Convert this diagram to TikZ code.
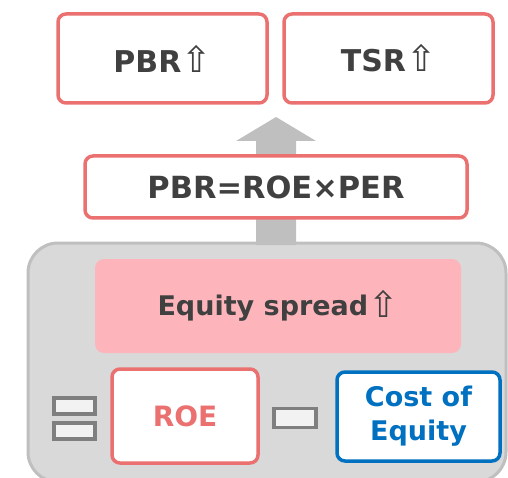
\documentclass[tikz,border=0pt]{standalone}
\usepackage{fontspec}
\setmainfont{DejaVu Sans}
\definecolor{redb}{RGB}{235,112,112}
\definecolor{bluec}{RGB}{0,112,192}
\definecolor{txt}{RGB}{64,64,64}
\definecolor{pinkf}{RGB}{253,181,187}
\definecolor{contf}{RGB}{217,217,217}
\definecolor{contb}{RGB}{191,191,191}
\definecolor{opb}{RGB}{127,127,127}
\definecolor{opf}{RGB}{242,242,242}
\newcommand{\upar}{{\mdseries\fontsize{36}{36}\selectfont\raisebox{-2pt}{⇧}}}
\tikzset{
  redbox/.style={draw=redb, line width=3.5pt, fill=white, rounded corners=8pt, inner sep=0pt, text=txt, font=\bfseries\fontsize{30}{32}\selectfont},
  bluebox/.style={draw=bluec, line width=3.5pt, fill=white, rounded corners=8pt, inner sep=0pt, text=bluec, align=center, font=\bfseries\fontsize{27}{34}\selectfont},
  pinkbox/.style={fill=pinkf, rounded corners=9pt, inner sep=0pt, text=txt, font=\bfseries\fontsize{27}{30}\selectfont},
  opbox/.style={draw=opb, line width=3.5pt, fill=opf, inner sep=0pt}
}
\begin{document}
\begin{tikzpicture}[x=1pt,y=-1pt]
\useasboundingbox (0,0) rectangle (508,478);
\begin{scope}
\clip (0,0) rectangle (508,478);
\draw[draw=contb, fill=contf, line width=3pt, rounded corners=30pt] (28,243) rectangle (506,482);
\end{scope}
% big grey arrow
\fill[contb] (256,245) -- (256,141) -- (236,141) -- (276,117) -- (316,141) -- (296,141) -- (296,245) -- cycle;
\node[redbox, minimum width=209pt, minimum height=89pt] (pbr) at (162.5,58.5) {\raisebox{-2pt}{PBR}\upar};
\node[redbox, minimum width=209pt, minimum height=89pt] (tsr) at (388.5,58.5) {\raisebox{-2pt}{TSR}\upar};
\node[redbox, font=\bfseries\fontsize{30.5}{32}\selectfont, minimum width=382pt, minimum height=62pt] (form) at (276,187) {PBR=ROE×PER};
\node[pinkbox, minimum width=366pt, minimum height=94pt] (spread) at (278,306) {Equity spread\upar};
\node[redbox, text=redb, font=\bfseries\fontsize{28}{30}\selectfont, minimum width=146pt, minimum height=94pt] (roe) at (185,416) {ROE};
\node[bluebox, minimum width=163pt, minimum height=89pt] (coe) at (418.5,416.5) {Cost of\\Equity};
\node[opbox, minimum width=41pt, minimum height=16pt] (eqa) at (74.5,406) {};
\node[opbox, minimum width=41pt, minimum height=16pt] (eqb) at (74.5,431) {};
\node[opbox, minimum width=42pt, minimum height=19pt] (minus) at (295,418) {};
\end{tikzpicture}
\end{document}
